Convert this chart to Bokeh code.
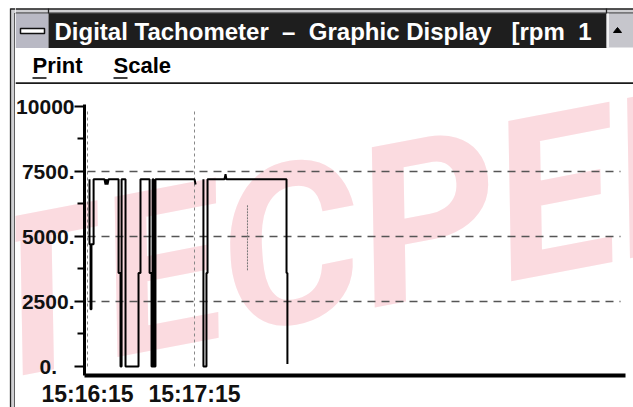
import math
from bokeh.plotting import figure
from bokeh.layouts import row, column
from bokeh.models import FixedTicker, Label, Range1d, ColumnDataSource
from bokeh.core.properties import value
from bokeh.embed import file_html
from bokeh.resources import INLINE

# ---------------- data ----------------
NB = "\u00a0"
WINDOW_TITLE = "Digital Tachometer" + NB + " \u2013" + NB + " Graphic Display" + NB + NB + " [rpm" + NB + " 1"
MENU_ITEMS = ["Print", "Scale"]

T0 = 15 * 3600 + 16 * 60 + 15          # 15:16:15 in seconds of day
x_tick_offsets = [0, 60]                # seconds after 15:16:15
x_tick_labels = ["15:16:15", "15:17:15"]

y_ticks = [0, 2500, 5000, 7500, 10000]
y_minor_ticks = [1250, 3750, 6250, 8750]
y_tick_labels = ["0." + NB * 3, "2500.", "5000.", "7500.", "10000"]
y_grid_ticks = [2500, 5000, 7500]

nan = float("nan")
# recorded trace: seconds after 15:16:15, rpm
trace_sec = [1.1, 1.1, 1.7, 1.7, 2.2, 2.2, 3.4, 3.4, 9.5, 10.1, 10.7, 11.2, 11.8,
             17.4, 17.4, 18.5, 18.5, 19.1, 19.1, 21.3, 21.3, 28.6, 28.6, 29.7, 29.7,
             34.8, 34.8, 35.9, 35.9, 36.5, 36.5, 37.0, 37.0, 38.1, 38.1, 60.0, 60.6,
             nan,
             65.0, 65.0, 66.7, 66.7, 67.3, 67.3, 76.8, 77.4, 77.9, 111.6, 111.6, 112.1, 112.1]
trace_rpm = [7200, 4700, 4700, 2200, 2200, 4700, 4700, 7200, 7200, 7000, 7200, 7000, 7200,
             7200, 3600, 3600, 0, 0, 7200, 7200, 0, 0, 3600, 3600, 7200,
             7200, 3600, 3600, 0, 0, 7200, 7200, 0, 0, 7200, 7200, 7000,
             nan,
             7200, 0, 0, 3600, 3600, 7200, 7200, 7400, 7200, 7200, 3600, 3600, 100]

cursor_sec = [89.7, 89.7]
cursor_rpm = [3700, 6200]

# visible extent of the chart pane (seconds after 15:16:15, rpm)
X_START, X_END = -40.4, 306.2
Y_START, Y_END = -1577, 10846
X_AXIS_AT = -365          # rpm level where the time axis is drawn
Y_AXIS_AT = -1.7          # time where the rpm axis is drawn
X_AXIS_END = 301.7
Y_AXIS_END = 10077

FONT = "Liberation Sans"


def chrome_fig(w, h, x0, x1, y0, y1):
    f = figure(width=w, height=h, output_backend="svg", toolbar_location=None,
               x_range=Range1d(x0, x1), y_range=Range1d(y1, y0),
               x_axis_type=None, y_axis_type=None, min_border=0, frame_align=False)
    f.grid.visible = False
    f.outline_line_color = None
    f.background_fill_color = "white"
    f.border_fill_color = "white"
    return f


# ---------------- left window border ----------------
border = chrome_fig(15, 407, 0, 15, 0, 407)
border.quad(left=[10], right=[15], top=[8], bottom=[407], fill_color="#cfcfd2", line_color=None)
border.segment(x0=[10, 14.5, 10, 14.5], y0=[8, 12.6, 8.5, 12.6], x1=[10, 14.5, 15, 15], y1=[407, 407, 8.5, 12.6],
               line_color="#222222", line_width=1.3)

# ---------------- title bar ----------------
tb = chrome_fig(618, 48, 15, 633, 0, 48)
tb.quad(left=[15], right=[633], top=[8], bottom=[13], fill_color="#cfcfd2", line_color=None)
tb.segment(x0=[15, 15, 48, 606], y0=[8.5, 12.6, 8, 8], x1=[633, 633, 48, 606], y1=[8.5, 12.6, 13, 13],
           line_color="#222222", line_width=1.3)
tb.quad(left=[15], right=[48], top=[13], bottom=[48], fill_color="#b9b9c4", line_color=None)
tb.quad(left=[20], right=[44], top=[28], bottom=[33], fill_color="white", line_color="#111111", line_width=1.5)
tb.quad(left=[48], right=[606], top=[13], bottom=[48], fill_color="#1e1e1e", line_color=None)
tb.quad(left=[606], right=[633], top=[13], bottom=[47], fill_color="#c6c6cc", line_color=None)
tb.segment(x0=[607.5], y0=[13], x1=[607.5], y1=[47], line_color="white", line_width=1.5)
tb.patch(x=[613, 621, 617], y=[32, 32, 27], fill_color="black", line_color="black")
tb.text(x=[54], y=[31.2], text=[WINDOW_TITLE], text_color="white", text_font=value(FONT),
        text_font_style="bold", text_font_size="24px", text_baseline="middle", text_align="left")

# ---------------- menu bar ----------------
mb = chrome_fig(618, 36, 15, 633, 48, 84)
mb.text(x=[32, 113], y=[65.4, 65.4], text=MENU_ITEMS, text_color="black", text_font=value(FONT),
        text_font_style="bold", text_font_size="22px", text_baseline="middle", text_align="left")
mb.segment(x0=[32, 113], y0=[77.5, 77.5], x1=[46, 127], y1=[77.5, 77.5], line_color="black", line_width=1.5)
mb.quad(left=[15], right=[633], top=[81.8], bottom=[83.8], fill_color="#1a1a1a", line_color=None)

# ---------------- chart ----------------
p = figure(width=618, height=323, output_backend="svg", toolbar_location=None,
           x_range=Range1d(T0 + X_START, T0 + X_END), y_range=Range1d(Y_START, Y_END),
           min_border=0, frame_align=False)
p.outline_line_color = None
p.background_fill_color = "white"
p.border_fill_color = "white"

wm = Label(x=T0 - 66, y=2250, x_units="data", y_units="data", text="TECPEL",
           angle=0.19, angle_units="rad", text_font="Roboto",
           text_font_style="bold italic", text_font_size="222px", text_color="#fbdbe0",
           text_baseline="middle", text_align="left", level="image")
p.add_layout(wm)

src = ColumnDataSource(dict(t=[T0 + s for s in trace_sec], rpm=trace_rpm))
p.line("t", "rpm", source=src, line_color="black", line_width=2)
p.line([T0 + s for s in cursor_sec], cursor_rpm, line_color="#777777", line_width=1, line_dash="2 1")

x_ticks = [T0 + s for s in x_tick_offsets]
p.xaxis.fixed_location = X_AXIS_AT
p.xaxis.bounds = (T0 + Y_AXIS_AT, T0 + X_AXIS_END)
p.xaxis.ticker = FixedTicker(ticks=x_ticks, minor_ticks=[])
p.xaxis.major_label_overrides = {t: lab for t, lab in zip(x_ticks, x_tick_labels)}
p.xaxis.major_tick_out = 0
p.xaxis.major_tick_in = 0
p.xaxis.minor_tick_out = 0
p.xaxis.minor_tick_in = 0
p.xaxis.axis_line_width = 4
p.xaxis.axis_line_color = "black"
p.xaxis.major_label_standoff = 5
p.xaxis.major_label_text_font = FONT
p.xaxis.major_label_text_font_style = "bold"
p.xaxis.major_label_text_font_size = "23px"
p.xaxis.major_label_text_color = "#111111"

p.yaxis.fixed_location = T0 + Y_AXIS_AT
p.yaxis.bounds = (X_AXIS_AT, Y_AXIS_END)
p.yaxis.ticker = FixedTicker(ticks=y_ticks, minor_ticks=y_minor_ticks)
p.yaxis.major_label_overrides = {t: lab for t, lab in zip(y_ticks, y_tick_labels)}
p.yaxis.major_tick_out = 10
p.yaxis.major_tick_in = 0
p.yaxis.minor_tick_out = 7
p.yaxis.minor_tick_in = 0
p.yaxis.major_tick_line_width = 2
p.yaxis.minor_tick_line_width = 2
p.yaxis.axis_line_width = 3
p.yaxis.major_label_standoff = 0
p.yaxis.major_label_text_font = FONT
p.yaxis.major_label_text_font_style = "bold"
p.yaxis.major_label_text_font_size = "21px"
p.yaxis.major_label_text_color = "#111111"

p.xgrid.grid_line_color = "#888888"
p.xgrid.grid_line_dash = "3 3"
p.xgrid.grid_line_width = 1
p.xgrid.cross_bounds = (0, 9900)
p.ygrid.ticker = FixedTicker(ticks=y_grid_ticks, minor_ticks=[])
p.ygrid.grid_line_color = "#555555"
p.ygrid.grid_line_dash = "8 6"
p.ygrid.grid_line_width = 1.3
p.ygrid.cross_bounds = (T0, T0 + 298.9)

layout = row(border, column(tb, mb, p, spacing=0), spacing=0)

open("out.html", "w").write(file_html(layout, INLINE))
